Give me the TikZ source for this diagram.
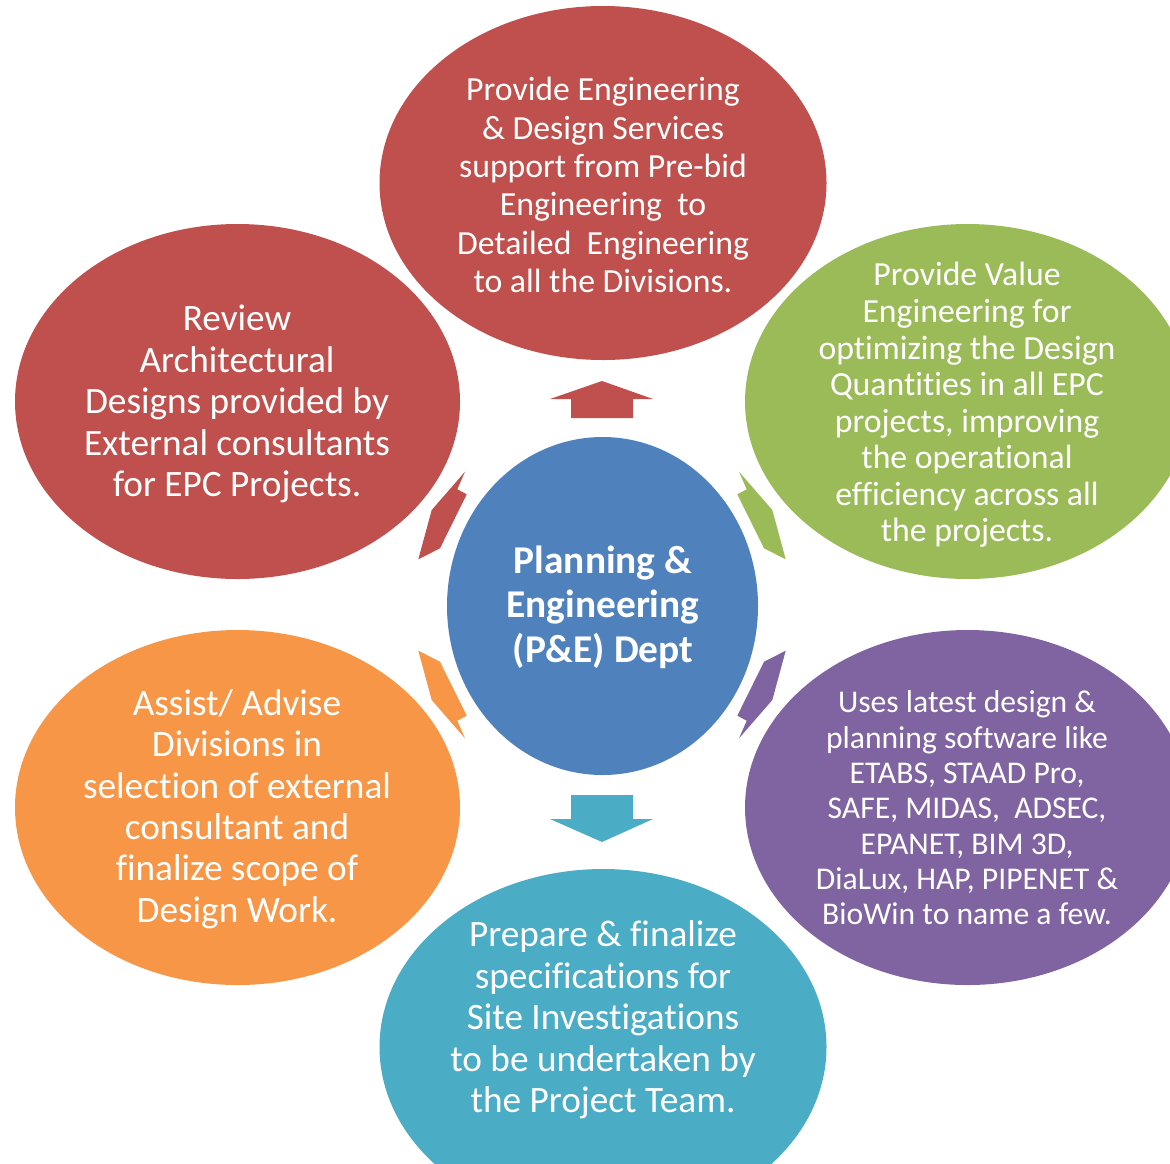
\documentclass[tikz,border=0pt]{standalone}
\usepackage{fontspec}
\setmainfont{Carlito}[Ligatures=NoCommon]
\usepackage{xcolor}
\usepackage{tikz}
\usetikzlibrary{shapes.geometric}
\definecolor{peRed}{HTML}{C0504D}
\definecolor{peGreen}{HTML}{9BBB59}
\definecolor{peBlue}{HTML}{4F81BD}
\definecolor{peOrange}{HTML}{F79646}
\definecolor{pePurple}{HTML}{8064A2}
\definecolor{peTeal}{HTML}{4BACC6}

\begin{document}
\begin{tikzpicture}[bubble/.style={ellipse,fill=#1,inner sep=0pt,minimum width=4.45cm,minimum height=3.55cm},
  btext/.style={text=white,align=center,inner sep=0pt}]
\useasboundingbox (0,0) rectangle (11.7,-11.63);
\clip (0,0) rectangle (11.7,-11.63);
% outer bubbles
\node[bubble=peRed,minimum width=4.47cm,minimum height=3.54cm] (design) at (6.03,-1.83) {};
\node[bubble=peRed]    (review)   at (2.375,-4.015) {};
\node[bubble=peGreen]  (value)    at (9.675,-4.015) {};
\node[bubble=peOrange] (assist)   at (2.375,-8.075) {};
\node[bubble=pePurple] (software) at (9.675,-8.075) {};
\node[bubble=peTeal,minimum width=4.47cm,minimum height=3.56cm] (prepare) at (6.03,-10.47) {};
% centre
\node[bubble=peBlue,minimum width=3.11cm,minimum height=3.38cm] (dept) at (6.025,-6.06) {};
% block arrows up / down
\fill[peRed] (6.02,-3.81) -- (6.53,-3.99) -- (6.33,-3.99) -- (6.33,-4.18)
  -- (5.71,-4.18) -- (5.71,-3.99) -- (5.50,-3.99) -- cycle;
\fill[peTeal] (6.02,-8.42) -- (6.53,-8.19) -- (6.33,-8.19) -- (6.33,-7.95)
  -- (5.71,-7.95) -- (5.71,-8.19) -- (5.50,-8.19) -- cycle;
% slanted arrows
\foreach \sx/\sy/\col in {1/1/peRed,-1/1/peGreen,1/-1/peOrange,-1/-1/pePurple}
  \fill[\col,shift={(6.02,-6.05)},xscale=\sx,yscale=\sy] (-1.37,1.333) -- (-1.447,1.157)
    -- (-1.353,1.107) -- (-1.62,0.567) -- (-1.837,0.457) -- (-1.703,0.95) -- cycle;
% texts
\node[btext,font=\fontsize{9.6}{10.9}\selectfont] (designTxt) at (6.03,-1.85)
  {Provide Engineering\\ \& Design Services\\ support from Pre-bid\\ Engineering\ \ to\\
   Detailed\ \ Engineering\\ to all the Divisions.};
\node[btext,font=\fontsize{10.6}{11.8}\selectfont] (reviewTxt) at (2.37,-4.04)
  {Review\\ Architectural\\ Designs provided by\\ External consultants\\ for EPC Projects.};
\node[btext,font=\fontsize{9.6}{10.4}\selectfont] (valueTxt) at (9.67,-4.05)
  {Provide Value\\ Engineering for\\ optimizing the Design\\ Quantities in all EPC\\
   projects, improving\\ the operational\\ efficiency across all\\ the projects.};
\node[btext,font=\fontsize{9.0}{10.05}\selectfont] (softwareTxt) at (9.67,-8.08)
  {Uses latest design \&\\ planning software like\\ ETABS, STAAD Pro,\\ SAFE, MIDAS,\ \ ADSEC,\\
   EPANET, BIM 3D,\\ DiaLux, HAP, PIPENET \&\\ BioWin to name a few.};
\node[btext,font=\fontsize{10.6}{11.8}\selectfont] (assistTxt) at (2.37,-8.09)
  {Assist/ Advise\\ Divisions in\\ selection of external\\ consultant and\\ finalize scope of\\ Design Work.};
\node[btext,font=\fontsize{10.6}{11.8}\selectfont] (prepareTxt) at (6.03,-10.2)
  {Prepare \& finalize\\ specifications for\\ Site Investigations\\ to be undertaken by\\ the Project Team.};
\node[btext,font=\fontsize{11.2}{12.6}\selectfont\bfseries] (deptTxt) at (6.03,-6.07)
  {Planning \&\\ Engineering\\ (P\&E) Dept};
\end{tikzpicture}
\end{document}
